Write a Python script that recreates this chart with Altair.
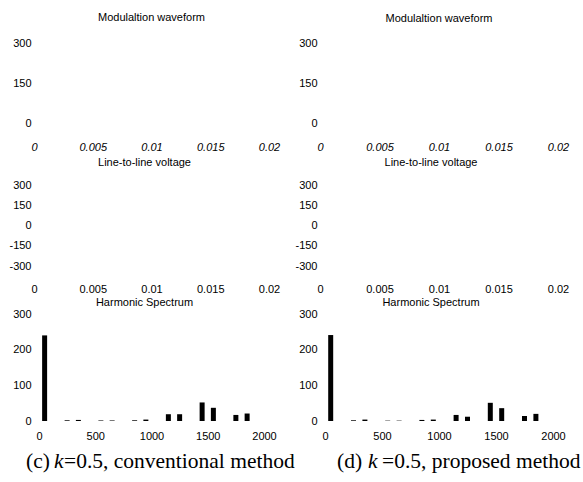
import altair as alt
import pandas as pd

# ---- data ----
t_ticks = [0, 0.005, 0.01, 0.015, 0.02]
mod_ticks = [0, 150, 300]
ll_ticks = [-300, -150, 0, 150, 300]
f_ticks = [0, 500, 1000, 1500, 2000]
spec_ticks = [0, 100, 200, 300]

freqs = [50, 250, 350, 550, 650, 850, 950, 1150, 1250, 1450, 1550, 1750, 1850]
conv_amp = [240, 2, 3, 1.5, 1.5, 2, 4, 19, 19, 52, 37, 17, 21]
prop_amp = [241, 2, 4, 1, 1, 3, 4, 17, 12, 51, 36, 14, 20]

panel_titles = ["Modulaltion waveform", "Line-to-line voltage", "Harmonic Spectrum"]
caption_c = ["(c)", "k", "=0.5, conventional method"]
caption_d = ["(d)", "k", "=0.5, proposed method"]

SANS = "Liberation Sans"
SERIF = "Liberation Serif"
LEFT_W = 235
RIGHT_W = 238


def label_axis(values, pad, italic=False):
    return alt.Axis(values=values, title=None, labelFlush=False, labelOverlap=False,
                    labelPadding=pad, labelExpr="toString(datum.value)",
                    labelFontStyle="italic" if italic else "normal")


def title_layer(text, w, dx, dy):
    return alt.Chart(pd.DataFrame({"s": [text]})).mark_text(
        font=SANS, fontSize=11, align="center", baseline="middle", color="black"
    ).encode(text="s:N", x=alt.value(w / 2 + dx), y=alt.value(dy))


def wave_panel(w, h, ydom, yticks, italic, xpad, title, tdx, tdy):
    base = alt.Chart(pd.DataFrame({"t": t_ticks, "v": [0] * len(t_ticks)})).mark_point(
        opacity=0
    ).encode(
        x=alt.X("t:Q", scale=alt.Scale(domain=[0, 0.02], nice=False), axis=label_axis(t_ticks, xpad, italic)),
        y=alt.Y("v:Q", scale=alt.Scale(domain=ydom, nice=False, zero=False), axis=label_axis(yticks, 3)),
    )
    return alt.layer(base, title_layer(title, w, tdx, tdy)).properties(width=w, height=h)


def caption_layers(parts, xs):
    layers = []
    for txt, x, style in zip(parts, xs, ["normal", "italic", "normal"]):
        layers.append(
            alt.Chart(pd.DataFrame({"s": [txt]})).mark_text(
                font=SERIF, fontSize=21.5, fontStyle=style, align="left",
                baseline="alphabetic", color="black"
            ).encode(text="s:N", x=alt.value(x), y=alt.value(154))
        )
    return layers


def spec_panel(amps, w, title, tdx, parts, xs):
    df = pd.DataFrame({"f": freqs, "a": amps})
    bars = alt.Chart(df).mark_bar(size=5, color="black").encode(
        x=alt.X("f:Q", scale=alt.Scale(domain=[0, 2000], nice=False), axis=label_axis(f_ticks, 9)),
        y=alt.Y("a:Q", scale=alt.Scale(domain=[0, 300], nice=False), axis=label_axis(spec_ticks, 3)),
    )
    return alt.layer(bars, title_layer(title, w, tdx, -11), *caption_layers(parts, xs)).properties(
        width=w, height=107
    )


cells = [
    wave_panel(LEFT_W, 94, [-52.5, 300], mod_ticks, True, 4, panel_titles[0], 0, -25),
    wave_panel(RIGHT_W, 94, [-52.5, 300], mod_ticks, True, 4, panel_titles[0], 0, -24),
    wave_panel(LEFT_W, 81, [-300, 300], ll_ticks, False, 17, panel_titles[1], -7, -22),
    wave_panel(RIGHT_W, 81, [-300, 300], ll_ticks, False, 17, panel_titles[1], -8, -22),
    spec_panel(conv_amp, LEFT_W, panel_titles[2], -7, caption_c, [-8, 20, 30]),
    spec_panel(prop_amp, RIGHT_W, panel_titles[2], -8, caption_d, [17, 48, 62]),
]

chart = alt.concat(
    *cells, columns=2, spacing={"row": 48, "column": 51}, bounds="flush", align="each"
).properties(
    padding={"left": 8, "top": 12, "right": 2, "bottom": 2}
).configure_view(stroke=None).configure_axis(
    grid=False, domain=False, ticks=False, labelFont=SANS, labelFontSize=11, labelColor="black"
)

chart.save("out.html", embed_options={"renderer": "svg", "actions": False})
